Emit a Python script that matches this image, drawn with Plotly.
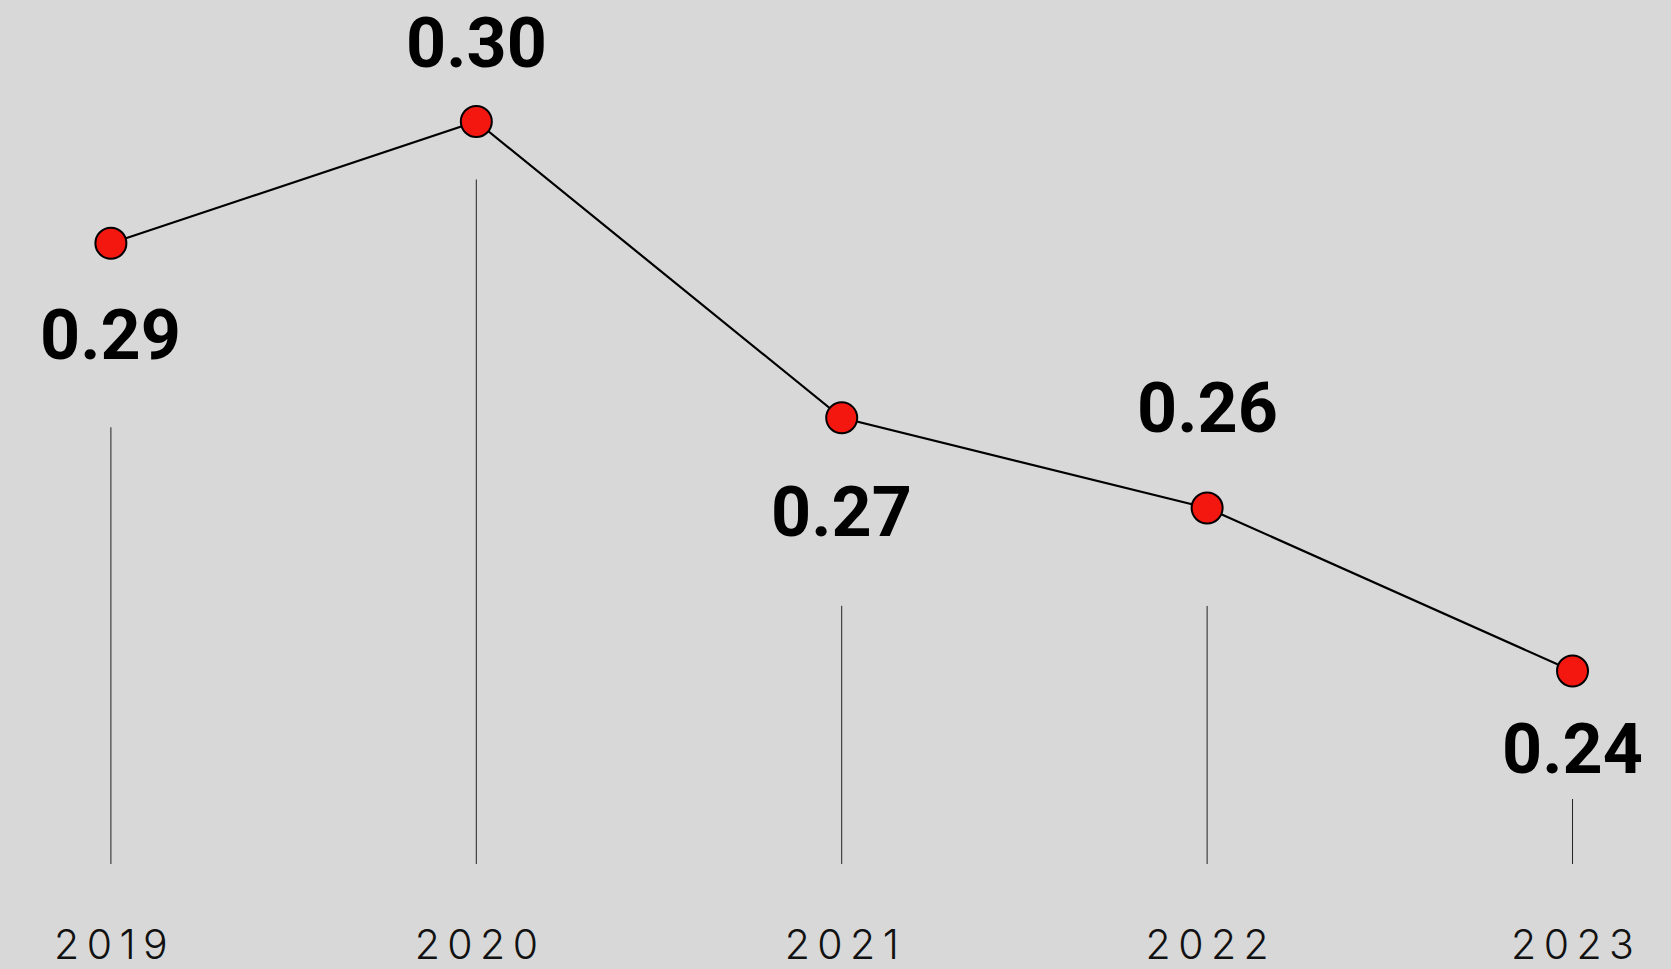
import plotly.graph_objects as go

# ---------------- data ----------------
years = [2019, 2020, 2021, 2022, 2023]
values = [0.2893, 0.3020, 0.2711, 0.2617, 0.2447]
year_labels = ["2019", "2020", "2021", "2022", "2023"]

# ---------------- style / layout ----------------
W, H = 1671, 969
BG = "#d8d8d8"
RED = "#f4170f"
MARGIN_B = 60
PLOT_H = H - MARGIN_B
Y_RANGE = [0.21988, 0.31467]
X_RANGE = [2018.6965, 2023.2695]
PX_PER_UNIT = PLOT_H / (Y_RANGE[1] - Y_RANGE[0])

label_side = {2019: "below", 2020: "above", 2021: "below", 2022: "above", 2023: "below"}
label_offset_px = {2019: 92, 2020: 79, 2021: 94, 2022: 100, 2023: 78}
stem_gap_px = {2019: 184, 2020: 58, 2021: 188, 2022: 98, 2023: 128}
STEM_BASE_PX_ABOVE_BOTTOM = 45  # stems end 45px above the plot bottom

stem_base = Y_RANGE[0] + STEM_BASE_PX_ABOVE_BOTTOM / PX_PER_UNIT

stem_x, stem_y = [], []
for yr, v in zip(years, values):
    top = v - stem_gap_px[yr] / PX_PER_UNIT
    stem_x += [yr, yr, None]
    stem_y += [stem_base, top, None]

fig = go.Figure()
fig.add_trace(go.Scatter(
    x=stem_x, y=stem_y, mode="lines",
    line=dict(color="#222222", width=1),
    hoverinfo="skip", showlegend=False,
))
fig.add_trace(go.Scatter(
    x=years, y=values, mode="lines+markers",
    line=dict(color="#000000", width=2.2),
    marker=dict(size=31, color=RED, line=dict(color="#000000", width=2)),
    showlegend=False,
))

for yr, v in zip(years, values):
    sign = 1 if label_side[yr] == "above" else -1
    fig.add_annotation(
        x=yr, y=v, xref="x", yref="y",
        text=f"{v:.2f}", showarrow=False,
        xanchor="center", yanchor="middle",
        yshift=sign * label_offset_px[yr],
        font=dict(family="Roboto", size=70, color="#000000", weight=700),
    )

spaced = ["\u2009".join(list(t)) for t in year_labels]

fig.update_layout(
    width=W, height=H,
    margin=dict(l=0, r=0, t=0, b=MARGIN_B, pad=0),
    paper_bgcolor=BG, plot_bgcolor=BG,
    showlegend=False,
    xaxis=dict(
        range=X_RANGE, tickmode="array", tickvals=years, ticktext=spaced,
        showgrid=False, zeroline=False, showline=False, ticks="",
        tickfont=dict(family="Inter", size=41, color="#111111", weight=300),
        ticklabelstandoff=8, automargin=False,
        fixedrange=True,
    ),
    yaxis=dict(
        range=Y_RANGE, visible=False, showgrid=False, zeroline=False,
        fixedrange=True, automargin=False,
    ),
)

fig.write_html(
    "out.html",
    config={"displayModeBar": False},
    post_script="document.body.style.margin='0';document.body.style.overflow='hidden';",
)
